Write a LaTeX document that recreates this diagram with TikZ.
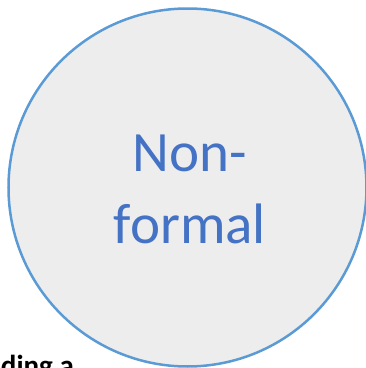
\documentclass[tikz,border=0pt]{standalone}
\usepackage{fontspec}
\setmainfont{Carlito}
\definecolor{ringblue}{HTML}{5B9BD5}
\definecolor{discgray}{HTML}{EDEDED}
\definecolor{wordblue}{HTML}{4472C4}
\begin{document}
\begin{tikzpicture}[x=1pt, y=1pt,
  word/.style={text=wordblue, align=center, font=\fontsize{57}{72}\selectfont}]
  \useasboundingbox (0,0) rectangle (366,368);
  \clip (0,0) rectangle (366,368);
  \draw[line width=2.5pt, draw=ringblue, fill=discgray] (187.5,180.5) circle (179);
  \node[word] (kind) at (190,178.7) {Non-\\formal};
  \node[anchor=base east, inner sep=0pt, font=\bfseries\fontsize{29}{35}\selectfont] (cut) at (74,-8) {ding a};
\end{tikzpicture}
\end{document}
